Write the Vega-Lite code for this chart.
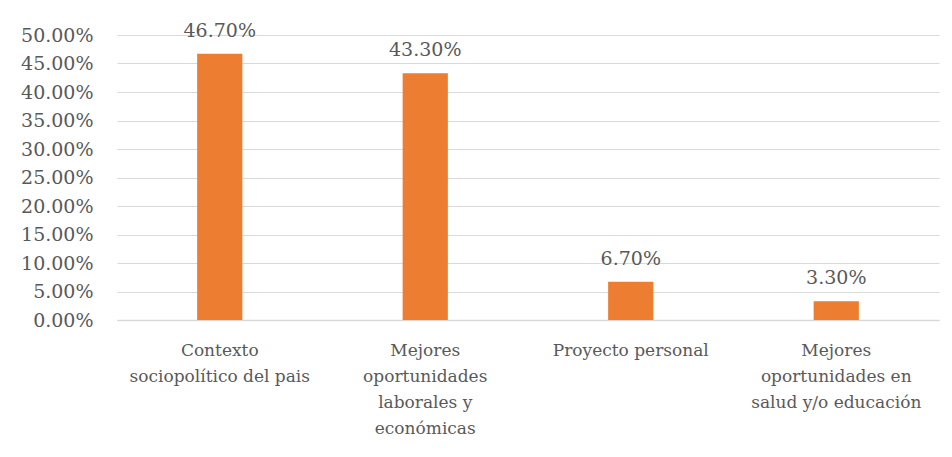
{
  "$schema": "https://vega.github.io/schema/vega-lite/v6.json",
  "width": 822,
  "height": 285,
  "autosize": "none",
  "padding": {"left": 117, "top": 35, "right": 13, "bottom": 137},
  "background": "white",
  "config": {
    "font": "DejaVu Serif",
    "view": {"stroke": null}
  },
  "data": {
    "values": [
      {"cat": "Contexto|sociopolítico del pais", "value": 0.467},
      {"cat": "Mejores|oportunidades|laborales y|económicas", "value": 0.433},
      {"cat": "Proyecto personal", "value": 0.067},
      {"cat": "Mejores|oportunidades en|salud y/o educación", "value": 0.033}
    ]
  },
  "encoding": {
    "x": {
      "field": "cat",
      "type": "nominal",
      "sort": null,
      "scale": {"paddingInner": 0.78, "paddingOuter": 0.39},
      "axis": {
        "title": null,
        "labelAngle": 0,
        "labelExpr": "split(datum.value, '|')",
        "labelFont": "DejaVu Serif",
        "labelFontSize": 17,
        "labelColor": "#595959",
        "labelLineHeight": 26,
        "labelPadding": 22,
        "labelBaseline": "top",
        "labelLimit": 0,
        "ticks": false,
        "domainColor": "#d9d9d9",
        "domainWidth": 1.5,
        "grid": false
      }
    },
    "y": {
      "field": "value",
      "type": "quantitative",
      "scale": {"domain": [0, 0.5], "nice": false},
      "axis": {
        "title": null,
        "format": ".2%",
        "values": [0, 0.05, 0.1, 0.15, 0.2, 0.25, 0.3, 0.35, 0.4, 0.45, 0.5],
        "labelFont": "DejaVu Serif",
        "labelFontSize": 19,
        "labelColor": "#595959",
        "labelPadding": 24,
        "ticks": false,
        "domain": false,
        "grid": true,
        "gridColor": "#d9d9d9",
        "gridWidth": 1
      }
    }
  },
  "layer": [
    {"mark": {"type": "bar", "color": "#ED7D31"}},
    {
      "mark": {"type": "text", "baseline": "alphabetic", "dy": -17, "font": "DejaVu Serif", "fontSize": 19, "color": "#595959"},
      "encoding": {"text": {"field": "value", "type": "quantitative", "format": ".2%"}}
    }
  ]
}
